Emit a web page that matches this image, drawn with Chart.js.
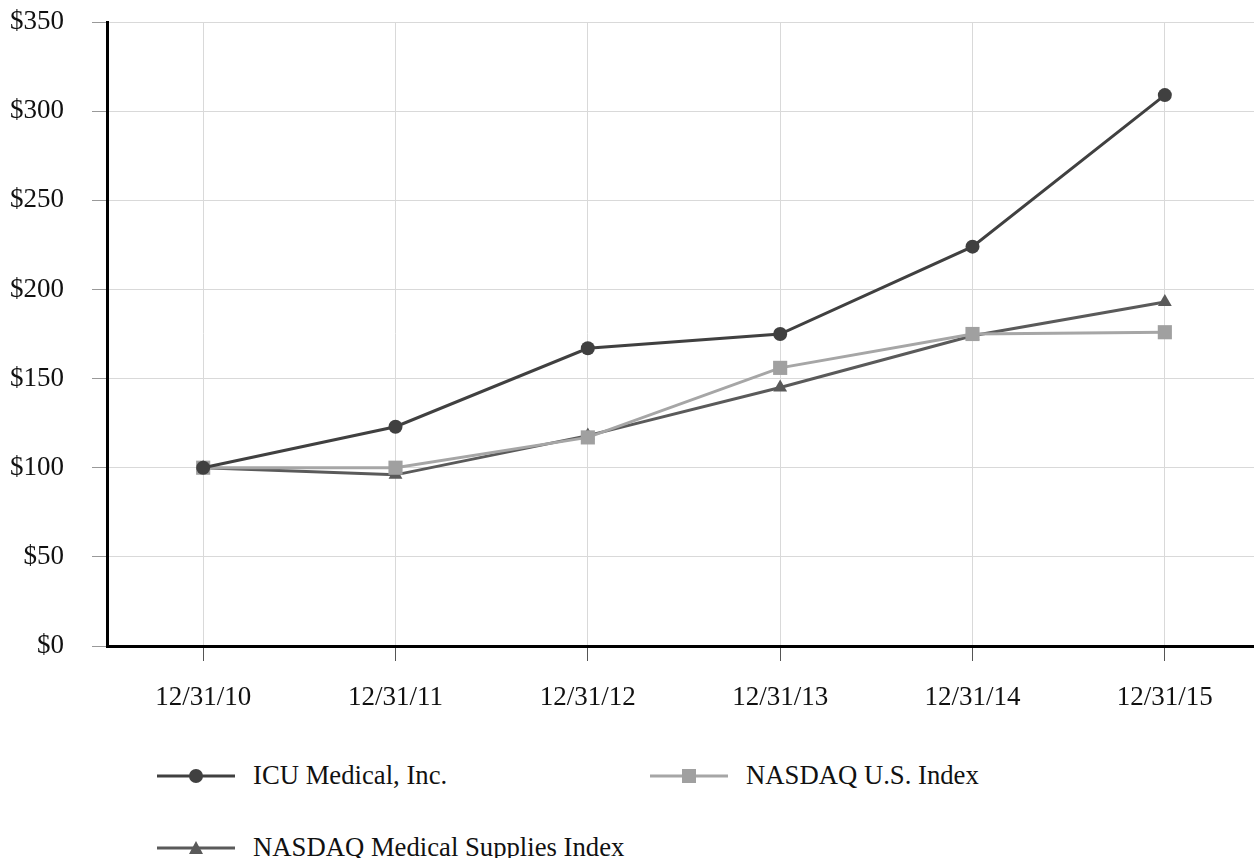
<!DOCTYPE html>
<html>
<head>
<meta charset="utf-8">
<script src="https://cdn.jsdelivr.net/npm/chart.js@4"></script>
<style>
    html, body { margin: 0; padding: 0; background: #fff; overflow: hidden; }
    #myChart { display: block; }
    .legend { position: absolute; font-family: "Liberation Serif", "Times New Roman", serif; font-size: 26.7px; color: #111; white-space: nowrap; }
    .legend svg { position: absolute; left: 0; top: 0; }
    .legend span { position: absolute; left: 96px; top: -17px; line-height: 32px; }
</style>
</head>
<body>
<canvas id="myChart" width="1271" height="726"></canvas>
<div class="legend" style="left:157px; top:776px;">
    <svg width="80" height="20" style="top:-10px"><line x1="0" y1="10" x2="78" y2="10" stroke="#404040" stroke-width="3"/><circle cx="39" cy="10" r="7" fill="#404040"/></svg>
    <span>ICU Medical, Inc.</span>
</div>
<div class="legend" style="left:650px; top:776px;">
    <svg width="80" height="20" style="top:-10px"><line x1="0" y1="10" x2="78" y2="10" stroke="#a6a6a6" stroke-width="3"/><rect x="32" y="3" width="14" height="14" fill="#a0a0a0"/></svg>
    <span>NASDAQ U.S. Index</span>
</div>
<div class="legend" style="left:157px; top:848px;">
    <svg width="80" height="20" style="top:-10px"><line x1="0" y1="10" x2="78" y2="10" stroke="#5a5a5a" stroke-width="3"/><polygon points="39,3 46,16 32,16" fill="#5a5a5a"/></svg>
    <span>NASDAQ Medical Supplies Index</span>
</div>
<script>
// chart data
const dates = ['12/31/10', '12/31/11', '12/31/12', '12/31/13', '12/31/14', '12/31/15'];
const icuMedical = [100, 123, 167, 175, 224, 309];
const nasdaqUS = [100, 100, 117, 156, 175, 176];
const nasdaqMedical = [100, 96, 118, 145, 174, 193];

const ctx = document.getElementById('myChart').getContext('2d');

const chart = new Chart(ctx, {
    type: 'line',
    data: {
        labels: dates,
        datasets: [
            {
                label: 'ICU Medical, Inc.',
                data: icuMedical,
                borderColor: '#404040',
                backgroundColor: '#404040',
                borderWidth: 3,
                pointStyle: 'circle',
                pointRadius: 7,
                pointBorderWidth: 0,
                tension: 0
            },
            {
                label: 'NASDAQ U.S. Index',
                data: nasdaqUS,
                borderColor: '#a6a6a6',
                backgroundColor: '#a0a0a0',
                borderWidth: 3,
                pointStyle: 'rect',
                pointRadius: 10, // rect side = 2 * r * 0.707
                pointBorderWidth: 0,
                tension: 0
            },
            {
                label: 'NASDAQ Medical Supplies Index',
                data: nasdaqMedical,
                borderColor: '#5a5a5a',
                backgroundColor: '#5a5a5a',
                borderWidth: 3,
                pointStyle: 'triangle',
                pointRadius: 8,
                pointBorderWidth: 0,
                tension: 0
            }
        ]
    },
    options: {
        responsive: false,
        animation: false,
        devicePixelRatio: 1,
        layout: { padding: { top: 22, right: 0, bottom: 0, left: 0 } },
        plugins: {
            legend: { display: false },
            tooltip: { enabled: false }
        },
        scales: {
            x: {
                offset: true,
                grid: { offset: false, color: '#d9d9d9', tickColor: '#555', tickLength: 15, lineWidth: 1 },
                border: { color: '#000', width: 3 },
                ticks: {
                    color: '#111',
                    padding: 21,
                    maxRotation: 0,
                    font: { family: 'Liberation Serif', size: 27 }
                },
                afterFit: function (scale) {
                    scale.height = 80;
                    scale.paddingLeft = 0;
                    scale.paddingRight = 0;
                }
            },
            y: {
                min: 0,
                max: 350,
                grid: { color: '#d9d9d9', tickColor: '#999', tickLength: 15, lineWidth: 1 },
                border: { color: '#000', width: 3 },
                ticks: {
                    stepSize: 50,
                    color: '#111',
                    padding: 28,
                    font: { family: 'Liberation Serif', size: 27 },
                    callback: function (value) { return '$' + value; }
                },
                afterFit: function (scale) {
                    scale.width = 107;
                    scale.paddingTop = 0;
                    scale.paddingBottom = 0;
                }
            }
        }
    }
});
</script>
</body>
</html>
